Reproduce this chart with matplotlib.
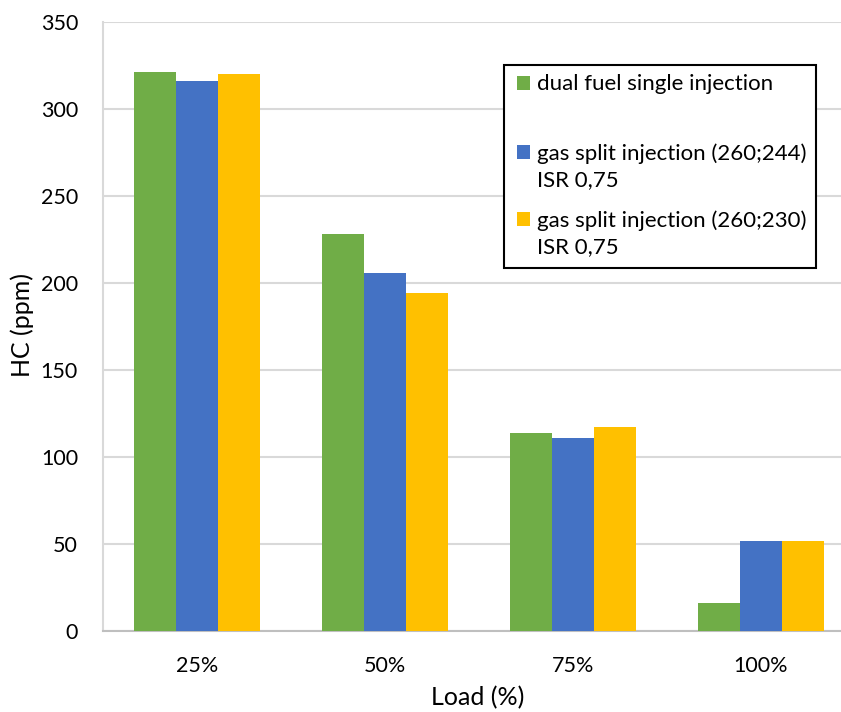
import numpy as np
import matplotlib.pyplot as plt
from matplotlib.patches import Rectangle

plt.rcParams['font.family'] = ['Lato', 'DejaVu Sans']

loads = ['25%', '50%', '75%', '100%']
single_inj = [321, 228, 114, 16]
split_244 = [316, 206, 111, 52]
split_230 = [320, 194, 117, 52]

series_labels = ['dual fuel single injection',
                 'gas split injection (260;244)\nISR 0,75',
                 'gas split injection (260;230)\nISR 0,75']
colors = ['#70AD47', '#4472C4', '#FFC000']

W, H = 841, 712
fig = plt.figure(figsize=(W / 100, H / 100), dpi=100)
ax = fig.add_axes([103 / W, 1 - 631 / H, 752 / W, 609 / H])

x = np.arange(len(loads))
bw = 0.222
for i, vals in enumerate([single_inj, split_244, split_230]):
    ax.bar(x + (i - 1) * bw, vals, width=bw, color=colors[i], zorder=3)

ax.set_xlim(-0.5, 3.5)
ax.set_ylim(0, 350)
ax.set_yticks(range(0, 351, 50))
ax.set_xticks(x)
ax.set_xticklabels(loads)
ax.grid(axis='y', color='#d9d9d9', linewidth=1.5, zorder=0)
ax.tick_params(length=0, labelsize=15.5)
ax.tick_params(axis='y', pad=18)
ax.tick_params(axis='x', pad=18)
for s in ['top', 'right']:
    ax.spines[s].set_visible(False)
ax.spines['left'].set_color('#d9d9d9')
ax.spines['left'].set_linewidth(1.5)
ax.spines['bottom'].set_color('#bfbfbf')
ax.spines['bottom'].set_linewidth(1.5)

fig.text(22 / W, 1 - 325 / H, 'HC (ppm)', rotation=90, ha='center', va='center', fontsize=18)
fig.text(478 / W, 1 - 698 / H, 'Load (%)', ha='center', va='center', fontsize=18)

# legend box, drawn by hand so the swatch sits on the first text line
fig.add_artist(Rectangle((504 / W, 1 - 268 / H), 312 / W, 203 / H, transform=fig.transFigure,
                         facecolor='white', edgecolor='black', linewidth=1.5, zorder=5))
rows = [83, 152, 219]
for lab, c, ry in zip(series_labels, colors, rows):
    fig.add_artist(Rectangle((517 / W, 1 - (ry + 7) / H), 13 / W, 14 / H, transform=fig.transFigure,
                             facecolor=c, edgecolor='none', zorder=6))
    fig.text(537 / W, 1 - (ry - 9) / H, lab, ha='left', va='top', fontsize=16,
             linespacing=1.42, zorder=7)

fig.savefig('out.png', dpi=100)
